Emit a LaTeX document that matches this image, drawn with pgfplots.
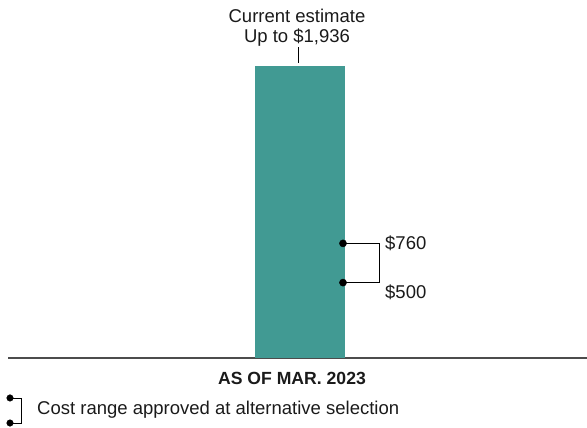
\documentclass[border=0pt]{standalone}
\usepackage{pgfplots}
\pgfplotsset{compat=1.18}
\usepackage{fontspec}
\setmainfont{Liberation Sans}
\definecolor{barteal}{HTML}{419A93}
\definecolor{txt}{HTML}{1A1A1A}
\begin{document}
\begin{tikzpicture}[x=1bp,y=1bp]
\useasboundingbox (0,0) rectangle (587,427);
\begin{axis}[
  at={(8bp,69bp)}, anchor=south west,
  scale only axis, width=579bp, height=292bp,
  xmin=8, xmax=587, ymin=0, ymax=1936,
  axis x line=bottom, axis y line=none,
  axis line style={-, draw=black!70, line width=1.1pt},
  xtick=\empty, ytick=\empty,
  clip=false,
  font=\fontsize{18.5bp}{20bp}\selectfont,
]
\addplot[ybar, bar width=90bp, fill=barteal, draw=none] coordinates {(300,1936)};
% range bracket
\addplot[black, line width=0.8pt, forget plot] coordinates {(343,760) (379,760) (379,500) (343,500)};
\addplot[only marks, mark=*, mark size=3.6pt, black, forget plot] coordinates {(343,760) (343,500)};
% callout tick
\addplot[black, line width=0.8pt, forget plot] coordinates {(298,2060) (298,1955)};
\node[anchor=west, text=txt, inner sep=0pt] at (axis cs:385,762) {\$760};
\node[anchor=west, text=txt, inner sep=0pt] at (axis cs:385,437) {\$500};
\node[text=txt, align=center, font=\fontsize{18.5bp}{19.5bp}\selectfont] at (axis cs:297,2190) {Current estimate\\Up to \$1,936};
\node[text=txt, font=\bfseries\fontsize{17.6bp}{19bp}\selectfont] at (axis cs:292,-133) {AS OF MAR. 2023};
% legend
\addplot[black, line width=0.8pt, forget plot] coordinates {(10,-265) (21,-265) (21,-431) (10,-431)};
\addplot[only marks, mark=*, mark size=3.3pt, black, forget plot] coordinates {(10,-265) (10,-431)};
\node[anchor=west, text=txt, inner sep=0pt] at (axis cs:37,-345) {Cost range approved at alternative selection};
\end{axis}
\end{tikzpicture}
\end{document}
